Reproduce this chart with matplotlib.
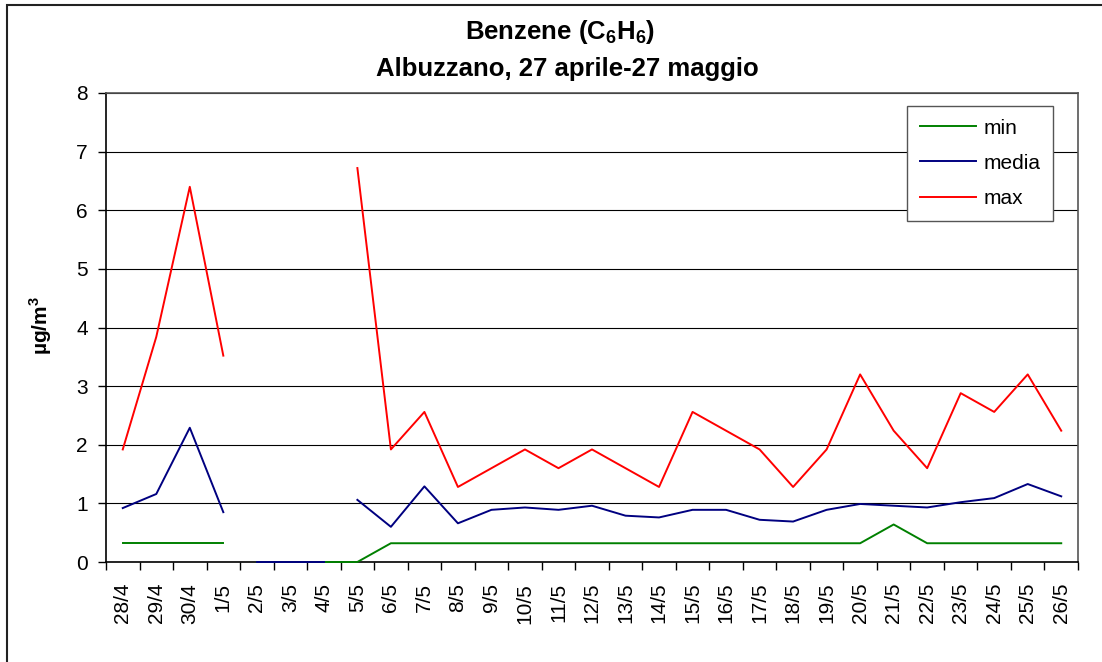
import numpy as np
import matplotlib.pyplot as plt
from matplotlib.patches import Rectangle

plt.rcParams['font.family'] = ['Liberation Sans', 'DejaVu Sans']
plt.rcParams['mathtext.fontset'] = 'custom'
plt.rcParams['mathtext.rm'] = 'Liberation Sans'
plt.rcParams['mathtext.bf'] = 'Liberation Sans:bold'

# dati
giorni = ['28/4', '29/4', '30/4', '1/5', '2/5', '3/5', '4/5', '5/5', '6/5', '7/5',
          '8/5', '9/5', '10/5', '11/5', '12/5', '13/5', '14/5', '15/5', '16/5', '17/5',
          '18/5', '19/5', '20/5', '21/5', '22/5', '23/5', '24/5', '25/5', '26/5']
v_min = [0.32, 0.32, 0.32, 0.32, 0, 0, 0, 0, 0.32, 0.32,
         0.32, 0.32, 0.32, 0.32, 0.32, 0.32, 0.32, 0.32, 0.32, 0.32,
         0.32, 0.32, 0.32, 0.64, 0.32, 0.32, 0.32, 0.32, 0.32]
v_media = [0.92, 1.16, 2.29, 0.85, 0, 0, 0, 1.06, 0.60, 1.29,
           0.66, 0.89, 0.93, 0.89, 0.96, 0.79, 0.76, 0.89, 0.89, 0.72,
           0.69, 0.89, 0.99, 0.96, 0.93, 1.02, 1.09, 1.33, 1.12]
v_max = [1.92, 3.84, 6.40, 3.52, None, None, None, 6.72, 1.92, 2.56,
         1.28, 1.60, 1.92, 1.60, 1.92, 1.60, 1.28, 2.56, 2.24, 1.92,
         1.28, 1.92, 3.20, 2.24, 1.60, 2.88, 2.56, 3.20, 2.24]
# tratti continui di ogni serie (indici inizio, fine)
tratti_min = [(0, 4), (4, 29)]
tratti_media = [(0, 4), (4, 7), (7, 29)]
tratti_max = [(0, 4), (7, 29)]

serie = [('min', v_min, tratti_min, '#008000'),
         ('media', v_media, tratti_media, '#000080'),
         ('max', v_max, tratti_max, '#ff0000')]

fig = plt.figure(figsize=(11.02, 6.62), dpi=100)
ax = fig.add_axes([106/1102, 100/662, 972/1102, 469/662])

x = np.arange(len(giorni)) + 0.5
for nome, valori, tratti, colore in serie:
    y = np.array([np.nan if v is None else v for v in valori], dtype=float)
    for k, (a, b) in enumerate(tratti):
        ax.plot(x[a:b], y[a:b], color=colore, lw=1.4, clip_on=False,
                label=nome if k == 0 else None, zorder=5)

ax.set_xlim(0, len(giorni))
ax.set_ylim(0, 8)
ax.set_yticks(range(0, 9))
ax.set_xticks(x)
ax.set_xticklabels(giorni, rotation=90, fontsize=15)
ax.set_xticks(np.arange(len(giorni) + 1), minor=True)
ax.tick_params(axis='x', which='major', length=0, pad=15)
ax.tick_params(axis='x', which='minor', length=6, width=1, direction='out')
ax.tick_params(axis='y', length=6, width=1, direction='out', pad=7, labelsize=15)
ax.yaxis.grid(True, color='black', lw=0.8)
for s in ax.spines.values():
    s.set_color('#555555')
    s.set_linewidth(1.2)
ax.spines['left'].set_color('black')
ax.spines['bottom'].set_color('black')

leg = ax.legend(loc='upper right', bbox_to_anchor=(1 - 25/972, 1 - 13/469),
                fontsize=15, fancybox=False, edgecolor='#555555', framealpha=1,
                handlelength=2.7, borderpad=0.6, labelspacing=0.78, handletextpad=0.35,
                borderaxespad=0)
leg.get_frame().set_linewidth(1.0)

fig.text(560/1102, 1 - 32/662, r'Benzene (C$_{\mathbf{6}}$H$_{\mathbf{6}}$)',
         ha='center', va='center', fontsize=18.5, fontweight='bold')
fig.text(567/1102, 1 - 69/662, 'Albuzzano, 27 aprile-27 maggio',
         ha='center', va='center', fontsize=18.5, fontweight='bold')
fig.text(41/1102, 1 - 326/662, r'µg/m$^{\mathbf{3}}$', rotation=90,
         ha='center', va='center', fontsize=15, fontweight='bold')

# bordo del grafico
fig.patches.append(Rectangle((7/1102, -0.1), 1.2, 1 - 5/662 + 0.1, transform=fig.transFigure,
                             fill=False, edgecolor='#222222', lw=1.5))

fig.savefig('out.png', dpi=100)
